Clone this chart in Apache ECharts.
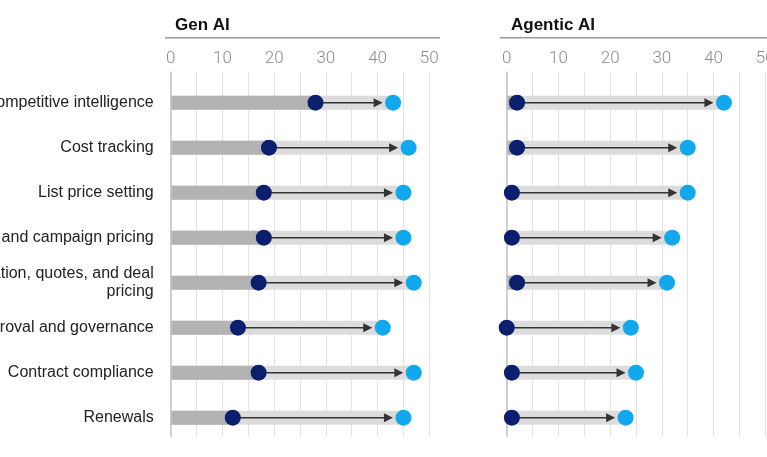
<!DOCTYPE html>
<html>
<head>
<meta charset="utf-8">
<script src="https://cdn.jsdelivr.net/npm/echarts@6/dist/echarts.min.js"></script>
<style>html,body{margin:0;padding:0;background:#fff}#c{width:767px;height:457px}</style>
</head>
<body>
<div id="c"></div>
<script>
const categories = ['Competitive intelligence','Cost tracking','List price setting','Promotion and campaign pricing','Negotiation, quotes, and deal\npricing','Approval and governance','Contract compliance','Renewals'];
const panelTitles = ['Gen AI', 'Agentic AI'];
const tickValues = [0, 10, 20, 30, 40, 50];
const genStart = [28, 19, 18, 18, 17, 13, 17, 12];
const genEnd   = [43, 46, 45, 45, 47, 41, 47, 45];
const agStart  = [2, 2, 1, 1, 2, 0, 1, 1];
const agEnd    = [42, 35, 35, 32, 31, 24, 25, 23];

const DARK_DOT = '#0b1f6e', LIGHT_DOT = '#12a8ee';
const DARK_BAR = '#b3b3b3', LIGHT_BAR = '#dcdcdc';
const FONT = 'Liberation Sans';

const chart = echarts.init(document.getElementById('c'), null, {renderer: 'canvas'});

const panels = [
  {left: 170.7, width: 258.6, start: genStart, end: genEnd, showLabels: true},
  {left: 506.7, width: 258.6, start: agStart, end: agEnd, showLabels: false}
];

const grid = [], xAxis = [], yAxis = [], series = [];
panels.forEach((p, k) => {
  const gm = grid.length;
  grid.push({left: p.left, width: p.width, top: 80.2, height: 360, containLabel: false, outerBoundsMode: 'none'});
  grid.push({left: p.left, width: p.width, top: 71.7, height: 365, containLabel: false, outerBoundsMode: 'none'});
  xAxis.push({gridIndex: gm, type: 'value', min: 0, max: 50, show: false});
  xAxis.push({gridIndex: gm + 1, type: 'value', min: 0, max: 50, interval: 5, position: 'top',
    axisLine: {show: false}, axisTick: {show: false},
    axisLabel: {show: true, margin: 4, fontFamily: 'Roboto', fontWeight: 300, fontSize: 17, color: '#8c8c8c',
      formatter: v => tickValues.includes(v) ? String(v) : '', showMaxLabel: true, showMinLabel: true, hideOverlap: false},
    splitLine: {show: true, lineStyle: {color: '#e3e3e3', width: 1}}});
  yAxis.push({gridIndex: gm, type: 'category', data: categories, inverse: true,
    axisLine: {show: false}, axisTick: {show: false},
    axisLabel: {show: p.showLabels, margin: 17, fontFamily: FONT, fontSize: 16, color: '#222', lineHeight: 18, hideOverlap: false}});
  yAxis.push({gridIndex: gm + 1, type: 'value', show: false, min: 0, max: 1});

  series.push({type: 'line', xAxisIndex: gm + 1, yAxisIndex: gm + 1, data: [], silent: true,
    markLine: {symbol: 'none', silent: true, label: {show: false}, lineStyle: {color: '#c4c4c4', width: 1.5, type: 'solid'},
      data: [{xAxis: 0}]}});

  series.push({type: 'bar', xAxisIndex: gm, yAxisIndex: gm, data: p.end, barWidth: 14,
    itemStyle: {color: LIGHT_BAR}, silent: true, z: 2});
  series.push({type: 'bar', xAxisIndex: gm, yAxisIndex: gm, data: p.start, barWidth: 14, barGap: '-100%',
    itemStyle: {color: DARK_BAR}, silent: true, z: 2});

  series.push({type: 'custom', xAxisIndex: gm, yAxisIndex: gm, z: 3, silent: true,
    data: p.start.map((s, i) => [s, p.end[i], i]),
    encode: {x: [0, 1], y: 2},
    renderItem: function (params, api) {
      const a = api.coord([api.value(0), api.value(2)]);
      const b = api.coord([api.value(1), api.value(2)]);
      const tip = b[0] - 10.5;
      const y = a[1];
      return {type: 'group', children: [
        {type: 'line', shape: {x1: a[0], y1: y, x2: tip - 7, y2: y}, style: {stroke: '#333', lineWidth: 1.4}},
        {type: 'polygon', shape: {points: [[tip, y], [tip - 9, y - 4.5], [tip - 9, y + 4.5]]}, style: {fill: '#333'}}
      ]};
    }});

  series.push({type: 'scatter', xAxisIndex: gm, yAxisIndex: gm, z: 5, silent: true,
    symbolSize: 16, itemStyle: {color: DARK_DOT, opacity: 1},
    data: p.start.map((s, i) => [s, i])});
  series.push({type: 'scatter', xAxisIndex: gm, yAxisIndex: gm, z: 5, silent: true,
    symbolSize: 16, itemStyle: {color: LIGHT_DOT, opacity: 1},
    data: p.end.map((s, i) => [s, i])});
});

const option = {
  animation: false,
  backgroundColor: '#fff',
  title: [
    {text: panelTitles[0], left: 170, top: 12, textStyle: {fontFamily: FONT, fontWeight: 'bold', fontSize: 17, color: '#111'}},
    {text: panelTitles[1], left: 506, top: 12, textStyle: {fontFamily: FONT, fontWeight: 'bold', fontSize: 17, color: '#111'}}
  ],
  graphic: [
    {type: 'line', shape: {x1: 165, y1: 37.7, x2: 440, y2: 37.7}, style: {stroke: '#9a9a9a', lineWidth: 1.5}},
    {type: 'line', shape: {x1: 500, y1: 37.7, x2: 767, y2: 37.7}, style: {stroke: '#9a9a9a', lineWidth: 1.5}}
  ],
  grid, xAxis, yAxis, series
};
chart.setOption(option);
</script>
</body>
</html>
